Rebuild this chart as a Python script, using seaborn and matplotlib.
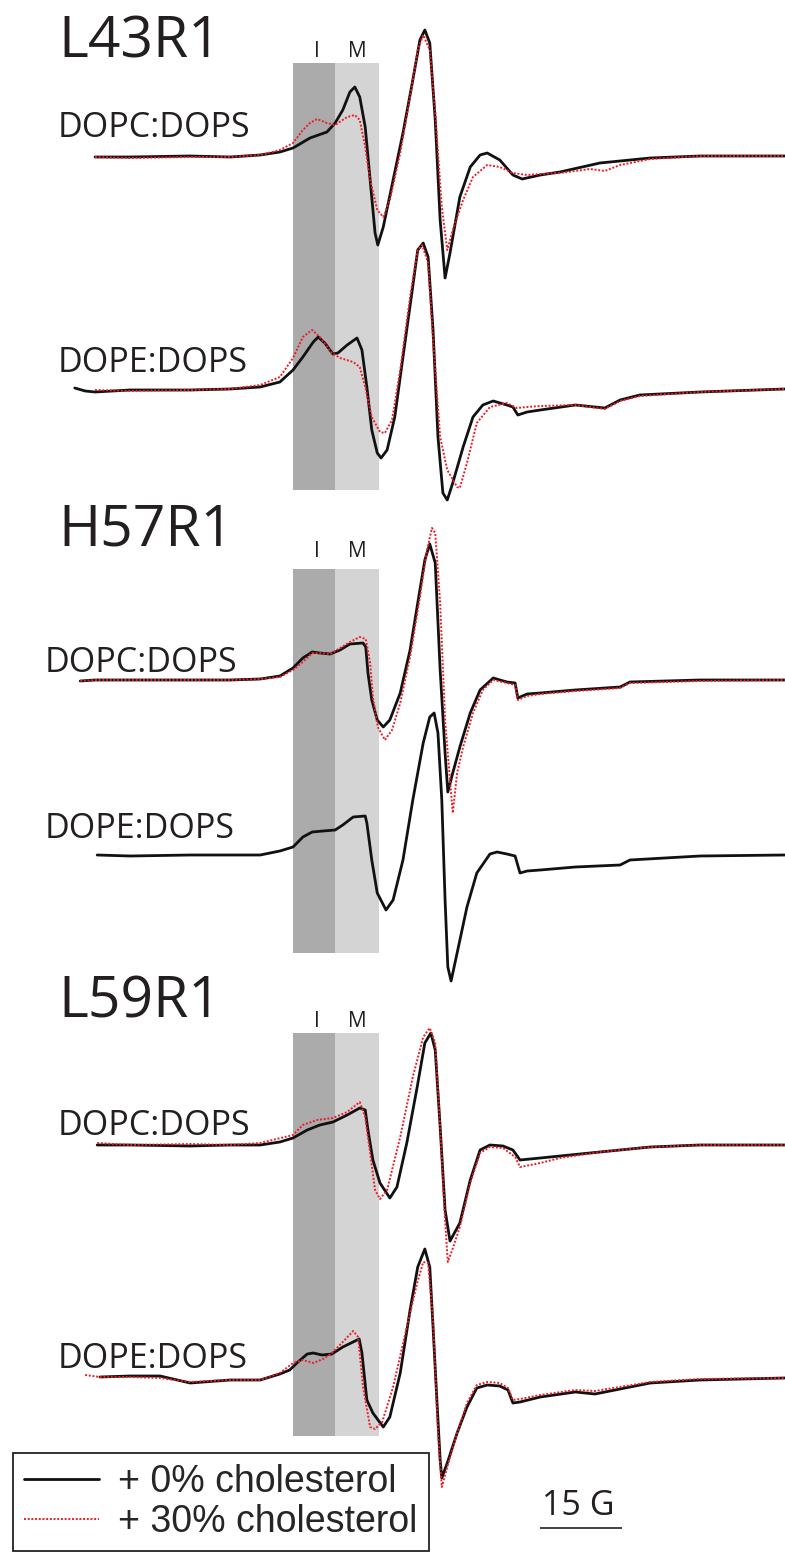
import matplotlib
matplotlib.use("Agg")
import matplotlib.pyplot as plt
import matplotlib.transforms as mtransforms
from matplotlib.patches import Rectangle
import pandas as pd
import seaborn as sns

# ---------------- data ----------------
spin_labels = ["L43R1", "H57R1", "L59R1"]
lipids = ["DOPC:DOPS", "DOPE:DOPS"]
conditions = ["+ 0% cholesterol", "+ 30% cholesterol"]
band_labels = ["I", "M"]
band_I_G = [36.2, 43.9]          # field range of the immobile (I) component, G
band_M_G = [43.9, 51.9]          # field range of the mobile (M) component, G
scale_bar_G = 15
scale_bar_label = "15 G"

# EPR first-derivative spectra: field (G) and amplitude (a.u.)
l43_pc_0_field = [0, 6.4, 17.4, 24.7, 30.2, 33.8, 36.2, 39.3, 42.4, 43.9, 45.3, 46.6, 47.5, 48.4, 49.4, 50.3, 51.2, 51.7,
                  52.7, 54.5, 56.3, 58.1, 59.4, 60.3, 61.2, 62.2, 63.1, 64.0, 64.9, 66.7, 68.6, 70.4, 71.7, 74.0, 76.4,
                  78.1, 81.4, 85.0, 92.3, 101.5, 110.6, 126.1]
l43_pc_0_amp = [0, 0, 1, 0, 2, 5, 9, 19, 25, 34, 47, 65, 70, 60, 30, -23, -76, -88, -70, -23, 24, 77, 117, 127, 114,
                37, -63, -121, -96, -40, -10, 2, 4, -3, -18, -22, -18, -15, -6, -1, 1, 1]
l43_pc_30_field = [0, 6.4, 17.4, 24.7, 30.2, 33.8, 36.2, 38.0, 39.3, 40.6, 42.4, 43.9, 46.1, 47.5, 48.4, 49.4, 50.3,
                   51.6, 52.7, 53.9, 55.8, 57.6, 59.0, 60.0, 61.2, 62.2, 63.4, 64.4, 65.4, 67.3, 69.1, 71.7, 74.0, 76.4,
                   79.0, 81.4, 85.0, 90.5, 93.2, 96.0, 101.5, 110.6, 126.1]
l43_pc_30_amp = [0, -1, 0, 0, 2, 7, 14, 27, 34, 38, 34, 32, 40, 42, 37, 10, -23, -53, -60, -43, 4, 60, 107, 122, 107,
                 44, -50, -93, -73, -43, -20, -8, -10, -16, -18, -17, -16, -12, -14, -8, -2, 1, 1]
l43_pe_0_field = [-3.7, -1.8, 0, 6.4, 17.4, 24.7, 30.2, 33.8, 36.2, 38.0, 39.9, 40.8, 42.0, 43.5, 44.4, 46.1, 47.9,
                  48.8, 49.7, 50.6, 51.6, 52.3, 53.4, 54.8, 56.3, 58.0, 59.0, 60.0, 60.9, 61.8, 62.7, 63.6, 64.4, 65.4,
                  67.3, 69.1, 70.9, 72.8, 75.3, 76.4, 77.3, 79.0, 81.4, 87.8, 93.2, 96.0, 99.6, 110.6, 126.1]
l43_pe_0_amp = [2, -1, -2, 0, 0, 1, 3, 8, 20, 33, 48, 53, 47, 36, 37, 45, 52, 40, 3, -40, -63, -68, -60, -27, 33, 100,
                140, 147, 133, 60, -47, -103, -110, -93, -57, -27, -15, -11, -15, -17, -25, -22, -20, -15, -18, -10,
                -5, -2, 1]
l43_pe_30_field = [0, 6.4, 17.4, 24.7, 30.2, 33.8, 36.2, 38.0, 39.7, 41.1, 43.3, 44.8, 47.2, 48.4, 49.4, 50.6, 52.1,
                   53.0, 54.3, 55.8, 57.6, 59.0, 59.8, 60.9, 61.8, 63.1, 64.4, 66.2, 66.7, 68.0, 69.8, 72.2, 75.3, 77.1,
                   79.0, 81.4, 87.8, 93.2, 96.0, 99.6, 110.6, 126.1]
l43_pe_30_amp = [0, -1, 0, 1, 5, 13, 32, 53, 60, 53, 37, 32, 28, 23, 3, -27, -42, -43, -30, 20, 93, 140, 145, 127, 50,
                 -47, -80, -97, -98, -73, -33, -17, -13, -18, -17, -16, -15, -19, -11, -6, -2, 1]

h57_pc_0_field = [-2.7, 0, 6.4, 17.4, 24.7, 30.2, 33.8, 36.2, 38.0, 39.7, 41.1, 43.0, 44.8, 46.6, 49.0, 49.5, 49.9,
                  50.6, 51.6, 52.7, 53.9, 55.8, 57.6, 59.0, 60.3, 61.2, 62.2, 63.1, 64.0, 64.5, 65.4, 66.7, 68.6, 70.4,
                  72.8, 75.3, 76.8, 77.3, 79.0, 81.4, 87.8, 96.0, 97.8, 110.6, 126.1]
h57_pc_0_amp = [-1, 0, 0, 0, 0, 1, 4, 12, 22, 28, 27, 26, 30, 36, 37, 33, 7, -20, -40, -47, -40, -13, 30, 77, 120,
                136, 117, 10, -73, -112, -93, -67, -33, -10, 2, -2, -3, -18, -14, -13, -10, -7, -2, 0, 0]
h57_pc_30_field = [-2.7, 0, 6.4, 17.4, 24.7, 30.2, 33.8, 36.2, 38.0, 39.7, 41.1, 43.0, 44.8, 46.6, 48.4, 49.5, 50.3,
                   50.8, 51.7, 53.0, 54.3, 55.8, 57.6, 59.4, 60.7, 61.6, 62.2, 63.1, 64.0, 64.9, 65.4, 66.2, 67.3, 69.1,
                   70.9, 72.8, 75.3, 76.8, 77.3, 79.0, 81.4, 87.8, 96.0, 97.8, 110.6, 126.1]
h57_pc_30_amp = [-1, 0, 0, 0, 0, 1, 3, 10, 18, 27, 27, 26, 32, 38, 43, 41, 17, -17, -47, -60, -50, -23, 23, 83, 130,
                 152, 147, 77, -40, -100, -133, -93, -67, -33, -10, 0, -3, -5, -20, -16, -14, -11, -8, -3, -1, 0]
h57_pe_0_field = [0.4, 6.4, 17.4, 24.7, 30.2, 33.8, 36.2, 38.0, 39.7, 41.7, 43.9, 45.3, 47.2, 49.4, 49.7, 50.6, 51.6,
                  53.2, 54.5, 56.3, 58.1, 60.0, 61.2, 62.0, 62.7, 63.4, 64.0, 64.5, 65.1, 66.2, 68.0, 69.8, 72.2, 73.5,
                  75.3, 76.8, 77.7, 79.0, 81.4, 87.8, 96.0, 97.8, 110.6, 126.1]
h57_pe_0_amp = [0, -1, 0, 0, 0, 4, 8, 18, 23, 24, 25, 30, 38, 39, 32, -5, -38, -55, -45, -5, 55, 112, 138, 142, 122,
                55, -45, -112, -126, -98, -52, -18, 1, 3, 1, -1, -18, -16, -15, -12, -10, -5, -1, 0]

l59_pc_0_field = [0.4, 6.4, 17.4, 24.7, 30.2, 33.8, 36.2, 38.8, 41.1, 43.5, 46.1, 48.4, 49.4, 49.9, 50.8, 52.1, 53.9,
                  55.2, 57.0, 58.9, 60.3, 61.4, 62.2, 63.1, 64.0, 64.9, 66.7, 68.6, 70.4, 72.2, 74.6, 76.4, 77.7, 81.4,
                  92.3, 101.5, 110.6, 126.1]
l59_pc_0_amp = [0, 0, -1, 0, 0, 3, 7, 15, 20, 23, 30, 37, 35, 15, -15, -38, -53, -42, 2, 58, 102, 112, 95, 18, -65,
                -96, -78, -35, -5, 0, -1, -5, -15, -13, -7, -2, 0, 0]
l59_pc_30_field = [0.4, 6.4, 17.4, 24.7, 30.2, 36.2, 38.0, 40.6, 43.5, 46.1, 48.4, 49.4, 50.3, 51.2, 52.1, 53.4, 55.8,
                   58.1, 60.0, 61.2, 62.2, 63.1, 64.0, 64.5, 65.3, 66.7, 68.6, 70.4, 72.2, 74.6, 76.8, 77.7, 81.4, 85.0,
                   92.3, 101.5, 110.6, 126.1]
l59_pc_30_amp = [2, 0, 1, 0, 2, 10, 20, 25, 27, 33, 43, 28, -8, -45, -54, -45, 8, 68, 108, 117, 102, 18, -75, -117,
                 -105, -82, -38, -8, -2, -3, -12, -22, -18, -13, -7, -2, 0, 0]
l59_pe_0_field = [0.9, 6.4, 11.9, 17.4, 24.7, 30.2, 33.8, 35.6, 37.1, 38.8, 39.9, 41.5, 43.3, 45.3, 48.3, 48.8, 49.7,
                  50.8, 52.7, 53.9, 55.8, 57.6, 59.0, 60.3, 61.2, 61.8, 62.5, 63.1, 63.4, 64.4, 66.2, 68.0, 69.8, 71.7,
                  74.0, 75.5, 76.4, 77.7, 81.4, 87.8, 91.4, 101.5, 110.6, 126.1]
l59_pe_0_amp = [1, 2, 2, -5, -2, -2, 4, 8, 16, 24, 25, 23, 24, 31, 39, 25, -22, -35, -49, -39, 5, 68, 111, 129, 111,
                51, -22, -82, -100, -85, -55, -29, -10, -7, -8, -12, -25, -24, -19, -14, -16, -5, -2, 0]
l59_pe_30_field = [-1.8, 0.9, 6.4, 11.9, 17.4, 24.7, 30.2, 33.8, 36.2, 38.0, 39.9, 41.7, 43.3, 45.3, 47.2, 48.1, 49.0,
                   50.3, 51.2, 52.5, 54.5, 57.0, 58.9, 60.0, 60.9, 61.8, 62.7, 63.4, 64.4, 66.2, 68.0, 69.8, 71.7, 74.0,
                   75.5, 76.4, 77.7, 81.4, 87.8, 91.4, 101.5, 110.6, 126.1]
l59_pe_30_amp = [3, 1, 1, 0, -4, -2, -2, 5, 15, 18, 15, 19, 25, 36, 47, 41, -9, -49, -51, -44, -9, 51, 95, 116, 115,
                 58, -55, -109, -89, -55, -25, -7, -4, -5, -10, -22, -21, -17, -12, -13, -4, -1, 0]

spectra = {
    ("L43R1", "DOPC:DOPS", conditions[0]): (l43_pc_0_field, l43_pc_0_amp),
    ("L43R1", "DOPC:DOPS", conditions[1]): (l43_pc_30_field, l43_pc_30_amp),
    ("L43R1", "DOPE:DOPS", conditions[0]): (l43_pe_0_field, l43_pe_0_amp),
    ("L43R1", "DOPE:DOPS", conditions[1]): (l43_pe_30_field, l43_pe_30_amp),
    ("H57R1", "DOPC:DOPS", conditions[0]): (h57_pc_0_field, h57_pc_0_amp),
    ("H57R1", "DOPC:DOPS", conditions[1]): (h57_pc_30_field, h57_pc_30_amp),
    ("H57R1", "DOPE:DOPS", conditions[0]): (h57_pe_0_field, h57_pe_0_amp),
    ("L59R1", "DOPC:DOPS", conditions[0]): (l59_pc_0_field, l59_pc_0_amp),
    ("L59R1", "DOPC:DOPS", conditions[1]): (l59_pc_30_field, l59_pc_30_amp),
    ("L59R1", "DOPE:DOPS", conditions[0]): (l59_pe_0_field, l59_pe_0_amp),
    ("L59R1", "DOPE:DOPS", conditions[1]): (l59_pe_30_field, l59_pe_30_amp),
}

# ---------------- layout (pixels of the 785x1552 canvas) ----------------
W, H = 785, 1552
PX_PER_G = 5.47
FIELD0_PX = 95
trace_baseline = {("L43R1", "DOPC:DOPS"): 157, ("L43R1", "DOPE:DOPS"): 390,
                  ("H57R1", "DOPC:DOPS"): 680, ("H57R1", "DOPE:DOPS"): 855,
                  ("L59R1", "DOPC:DOPS"): 1145, ("L59R1", "DOPE:DOPS"): 1378}
band_y = {"L43R1": (63, 490), "H57R1": (569, 953), "L59R1": (1033, 1436)}
title_base_y = {"L43R1": 57, "H57R1": 545, "L59R1": 1017}
band_label_base_y = {"L43R1": 57, "H57R1": 557, "L59R1": 1027}
lipid_label_pos = {("L43R1", "DOPC:DOPS"): (58, 137), ("L43R1", "DOPE:DOPS"): (58, 372),
                   ("H57R1", "DOPC:DOPS"): (45, 672), ("H57R1", "DOPE:DOPS"): (45, 838),
                   ("L59R1", "DOPC:DOPS"): (58, 1135), ("L59R1", "DOPE:DOPS"): (58, 1368)}

rows = []
for (spin, lipid, cond), (fld, amp) in spectra.items():
    base = trace_baseline[(spin, lipid)]
    for f, a in zip(fld, amp):
        rows.append({"spin": spin, "lipid": lipid, "condition": cond,
                     "trace": f"{spin} {lipid} {cond}", "field": f, "y": base - a})
df = pd.DataFrame(rows)

sns.set_theme(style="white")
plt.rcParams["font.family"] = ["Open Sans", "DejaVu Sans"]

fig = plt.figure(figsize=(W / 100, H / 100), dpi=100)
ax = fig.add_axes([0, 0, 1, 1])
ax.set_xlim(-FIELD0_PX / PX_PER_G, (W - FIELD0_PX) / PX_PER_G)
ax.set_ylim(H, 0)
ax.set_axis_off()

pix = mtransforms.Affine2D().scale(1 / W, -1 / H).translate(0, 1) + fig.transFigure
TXT = "#231f20"

# shaded I / M bands
for spin in spin_labels:
    y0, y1 = band_y[spin]
    ax.add_patch(Rectangle((band_I_G[0], y0), band_I_G[1] - band_I_G[0], y1 - y0,
                           facecolor="#ababab", edgecolor="none", zorder=0))
    ax.add_patch(Rectangle((band_M_G[0], y0), band_M_G[1] - band_M_G[0], y1 - y0,
                           facecolor="#d4d4d4", edgecolor="none", zorder=0))
    for lab, (b0, b1), dx in zip(band_labels, [band_I_G, band_M_G], [0.6, 0.0]):
        ax.text((b0 + b1) / 2 + dx, band_label_base_y[spin], lab, ha="center", va="baseline",
                fontsize=15, color=TXT, family=["Open Sans", "DejaVu Sans"])

sns.lineplot(data=df, x="field", y="y", hue="condition", style="condition", size="condition",
             units="trace", estimator=None, sort=False, ax=ax,
             hue_order=conditions, style_order=conditions, size_order=conditions,
             palette={conditions[0]: "#111111", conditions[1]: "#ee1c24"},
             dashes={conditions[0]: "", conditions[1]: (1, 0.9)},
             sizes={conditions[0]: 2.0, conditions[1]: 1.4}, zorder=3)

# panel titles and lipid labels
for spin in spin_labels:
    fig.text(58, title_base_y[spin], spin, transform=pix, ha="left", va="baseline",
             fontsize=41, color=TXT, family=["Open Sans", "DejaVu Sans"])
for (spin, lipid), (x, y) in lipid_label_pos.items():
    fig.text(x, y, lipid, transform=pix, ha="left", va="baseline",
             fontsize=24.5, color=TXT, family=["Open Sans", "DejaVu Sans"])

# scale bar
sb_x0 = 81.4
ax.plot([sb_x0, sb_x0 + scale_bar_G], [1528, 1528], color=TXT, lw=1.2, solid_capstyle="butt")
ax.text(sb_x0 + scale_bar_G / 2 - 0.6, 1515, scale_bar_label, ha="center", va="baseline",
        fontsize=24.5, color=TXT, family=["Open Sans", "DejaVu Sans"])

# legend
sns.move_legend(ax, "upper left", bbox_to_anchor=(13 / W, 1 - 1453 / H), bbox_transform=fig.transFigure,
                title=None, frameon=True, fancybox=False, borderaxespad=0, borderpad=0.3,
                handlelength=2.0, handletextpad=0.5, labelspacing=0.1,
                prop={"family": ["Liberation Sans", "DejaVu Sans"], "size": 27})
leg = ax.get_legend()
leg.set_zorder(2)
leg.get_frame().set_edgecolor("#222222")
leg.get_frame().set_linewidth(1.3)
leg.get_frame().set_alpha(1)

fig.savefig("out.png", dpi=100)
